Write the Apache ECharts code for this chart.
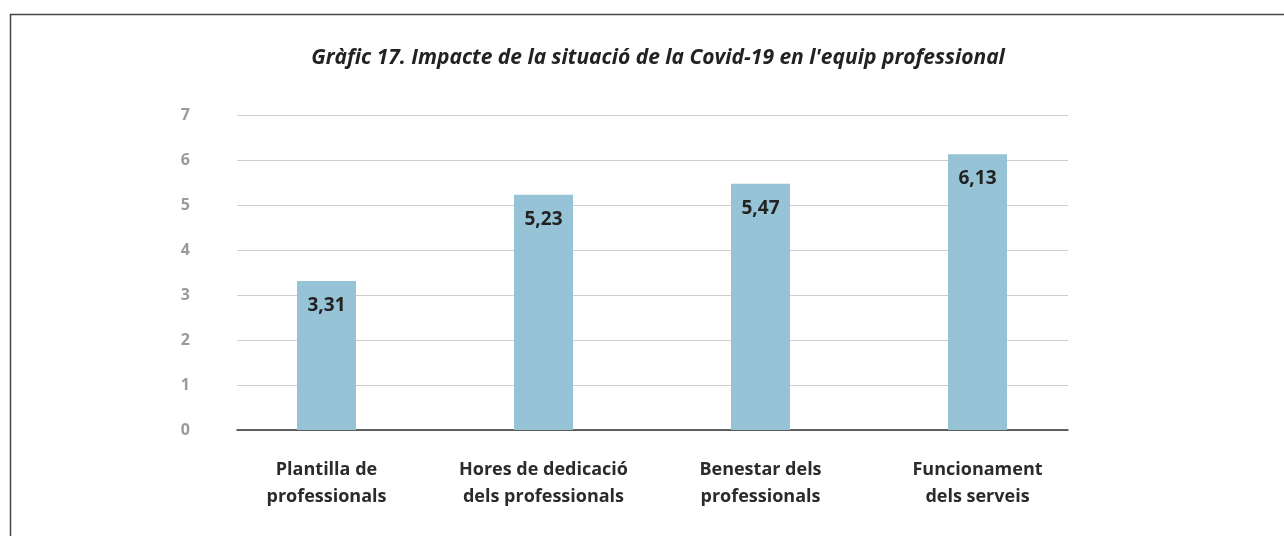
<!DOCTYPE html>
<html>
<head>
<meta charset="utf-8">
<script src="https://cdn.jsdelivr.net/npm/echarts@6/dist/echarts.min.js"></script>
<style>
  html, body { margin: 0; padding: 0; background: #fff; }
  #main { width: 1284px; height: 536px; }
</style>
</head>
<body>
<div id="main"></div>
<script>
// dades del gràfic
var titleText = "Gràfic 17. Impacte de la situació de la Covid-19 en l'equip professional";
var categories = ['Plantilla de\nprofessionals', 'Hores de dedicació\ndels professionals', 'Benestar dels\nprofessionals', 'Funcionament\ndels serveis'];
var values = [3.31, 5.23, 5.47, 6.13];
var yMin = 0, yMax = 7, yStep = 1;

var font = '"Open Sans", "Noto Sans", sans-serif';
var chart = echarts.init(document.getElementById('main'));

chart.setOption({
    animation: false,
    title: {
        left: 653,
        textAlign: 'center',
        top: 43,
        text: titleText,
        textStyle: { fontFamily: font, fontSize: 21, fontWeight: 'bold', fontStyle: 'italic', color: '#222' }
    },
    graphic: [
        { type: 'line', shape: { x1: 10, y1: 14.5, x2: 1284, y2: 14.5 }, style: { stroke: '#444', lineWidth: 1.5 } },
        { type: 'line', shape: { x1: 10.5, y1: 14, x2: 10.5, y2: 536 }, style: { stroke: '#444', lineWidth: 1.5 } }
    ],
    grid: [
        // quadrícula (línies horitzontals)
        { left: 237, right: 216, top: 115, bottom: 106 },
        // barres
        { left: 218, right: 198, top: 115, bottom: 106 }
    ],
    xAxis: [
        {
            gridIndex: 0, type: 'category', data: categories,
            axisLine: { lineStyle: { color: '#333', width: 1.5 } },
            axisTick: { show: false }, axisLabel: { show: false }
        },
        {
            gridIndex: 1, type: 'category', data: categories,
            axisLine: { show: false }, axisTick: { show: false },
            axisLabel: {
                interval: 0,
                margin: 26, lineHeight: 27,
                fontFamily: font, fontSize: 18, fontWeight: 'bold', color: '#2b2b2b'
            }
        }
    ],
    yAxis: [
        {
            gridIndex: 0, type: 'value', min: yMin, max: yMax, interval: yStep,
            axisLine: { show: false }, axisTick: { show: false },
            axisLabel: { margin: 47, fontFamily: font, fontSize: 16, fontWeight: 'bold', color: '#9a9a9a' },
            splitLine: { lineStyle: { color: '#cfcfcf', width: 1.2 } }
        },
        {
            gridIndex: 1, type: 'value', min: yMin, max: yMax, interval: yStep,
            show: false
        }
    ],
    series: [{
        type: 'bar',
        xAxisIndex: 1, yAxisIndex: 1,
        data: values,
        barWidth: 59,
        itemStyle: { color: '#97c3d6' },
        label: {
            show: true,
            position: 'insideTop',
            distance: 15,
            formatter: function (p) { return p.value.toFixed(2).replace('.', ','); },
            fontFamily: font, fontSize: 19, fontWeight: 'bold', color: '#222'
        }
    }]
});
</script>
</body>
</html>
